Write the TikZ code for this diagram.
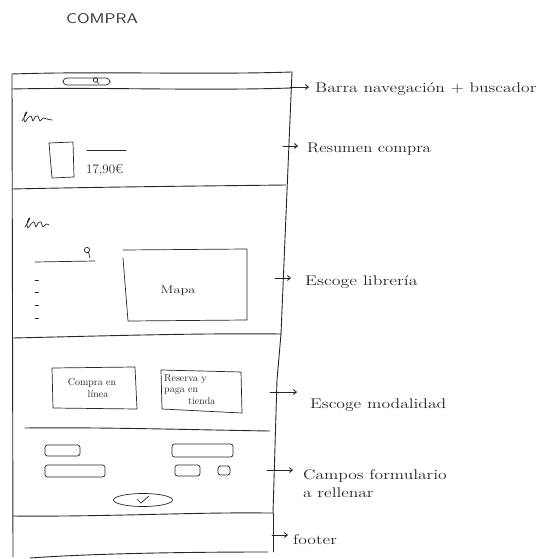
\documentclass[tikz,border=0pt]{standalone}
\usepackage{fontspec}
\usepackage{graphicx}
\usetikzlibrary{arrows.meta,shapes.geometric}
\begin{document}
\begin{tikzpicture}[x=1pt,y=-1pt,
  pen/.style={line width=0.9pt,line cap=round,line join=round,black!85},
  thinpen/.style={line width=0.7pt,line cap=round,line join=round,black!85},
  arr/.style={pen,-{Straight Barb[length=3pt,width=5pt]}},
  lbl/.style={font=\fontsize{14}{18}\selectfont,inner sep=0pt,anchor=west,align=left,text=black!85},
  small/.style={font=\fontsize{10}{11.5}\selectfont,inner sep=0pt,text=black!85},
  field/.style={thinpen,rounded corners=2.5pt}]
\useasboundingbox (0,0) rectangle (553,559);
% title
\node[font=\sffamily\fontsize{14}{16}\selectfont,inner sep=0pt,text=black!80] (title) at (102,19) {\scalebox{1.25}[1]{COMPRA}};
% frame
\coordinate (tl) at (12,74);
\coordinate (tr) at (292,72);
\coordinate (mr) at (281,334);
\coordinate (br) at (273,513);
\draw[pen] (tl) .. controls (100,71) and (200,75) .. (tr);
\draw[pen] (tr) -- (mr);
\draw[pen] (tl) -- (13,557);
\draw[pen] (12,89) .. controls (100,87) and (200,91) .. (291,88);
\draw[pen] (12,189) .. controls (100,187) and (200,186) .. (286,185);
\draw[pen] (13,338) .. controls (100,336) and (200,333) .. (mr);
\draw[pen] (mr) -- (277,380) -- (br);
\draw[pen] (25,428) .. controls (100,427) and (200,430) .. (270,431);
\draw[pen] (13,516) .. controls (100,517) and (200,512) .. (266,513) -- (br);
\draw[pen] (br) -- (273,552);
\draw[pen] (30,558) .. controls (100,553) and (200,552) .. (268,552);
% nav bar
\draw[thinpen,rounded corners=4pt] (63,78) rectangle (110,85);
\draw[thinpen] (95.5,80) circle (2.2);
\draw[thinpen] (97,81.5) -- (98.5,83.5);
% scribbles
\draw[thinpen] plot[smooth,tension=0.6] coordinates {(22,121) (25,116) (27,112) (25.5,113) (24,118) (25,122) (28,118) (31,116) (33,121) (35,117) (38,116) (40,121) (43,118) (47,119) (52,120)};
\draw[thinpen] plot[smooth,tension=0.6] coordinates {(25,227) (28,222) (30,218) (28.5,219) (27,224) (28,228) (31,224) (34,222) (36,227) (38,223) (41,222) (43,227) (46,224) (49,225)};
% resumen
\draw[thinpen] (49,143) -- (73,142) -- (74,177) -- (52,178) -- cycle;
\draw[thinpen] (87,150) -- (126,150);
\node[small,font=\fontsize{13}{14}\selectfont,anchor=west] (price) at (86,170) {17,90€};
% librería
\draw[thinpen] (35,262) -- (95,261);
\draw[thinpen] (87,250) circle (2.6);
\draw[thinpen] (88.5,252.5) -- (90,258);
\foreach \yy in {280,292,305,318} \draw[thinpen] (35,\yy) -- (38.5,\yy);
\draw[thinpen] (123,250) -- (247,249) -- (247,320) -- (128,321) -- (123,258);
\node[small,font=\fontsize{11}{12}\selectfont] (mapa) at (178,291) {\scalebox{1.3}[1]{Mapa}};
% modalidad
\draw[thinpen] (52,368) -- (135,367) -- (137,409) -- (53,408) -- cycle;
\node[small,align=center] (online) at (92,388) {Compra en\\ \hspace*{12pt}línea};
\draw[thinpen] (161,370) -- (241,372) -- (242,413) -- (162,409) -- cycle;
\node[small,align=left,anchor=north west] (tienda) at (164,374) {Reserva y\\paga en\\ \hspace*{24pt}tienda};
% form fields
\draw[field] (45,445) rectangle (80,456);
\draw[field] (172,444) rectangle (233,457);
\draw[field] (45,465) rectangle (105,477);
\draw[field] (175,465) rectangle (200,476);
\draw[field] (218,466) rectangle (230,475);
\node[draw,thinpen,ellipse,minimum width=59pt,minimum height=13pt,inner sep=0pt] (btn) at (143,500) {};
\draw[thinpen] (137,499) -- (141,503) -- (149,496);
% labels and arrows
\coordinate (a1) at (290,87);
\node[lbl] (l1) at (315,89) {\scalebox{1.25}[1]{Barra navegación + buscador}};
\draw[arr] (a1) -- ([xshift=-6pt]a1 -| l1.west);
\coordinate (a2) at (283,146);
\node[lbl] (l2) at (307,149) {\scalebox{1.2}[1]{Resumen compra}};
\draw[arr] (a2) -- ([xshift=-9pt]a2 -| l2.west);
\coordinate (a3) at (275,278);
\node[lbl] (l3) at (305,282) {\scalebox{1.28}[1]{Escoge librería}};
\draw[arr] (a3) -- ([xshift=-14pt]a3 -| l3.west);
\coordinate (a4) at (270,392);
\node[lbl] (l4) at (310,405) {\scalebox{1.26}[1]{Escoge modalidad}};
\draw[arr] (a4) -- ([xshift=-13pt]a4 -| l4.west);
\coordinate (a5) at (267,470);
\node[lbl] (l5) at (303,484) {\scalebox{1.25}[1]{Campos formulario}\\\scalebox{1.25}[1]{a rellenar}};
\draw[arr] (a5) -- ([xshift=-10pt]a5 -| l5.west);
\coordinate (a6) at (272,535);
\node[lbl] (l6) at (293,540) {\scalebox{1.25}[1]{footer}};
\draw[arr] (a6) -- ([xshift=-5pt]a6 -| l6.west);
\end{tikzpicture}
\end{document}
